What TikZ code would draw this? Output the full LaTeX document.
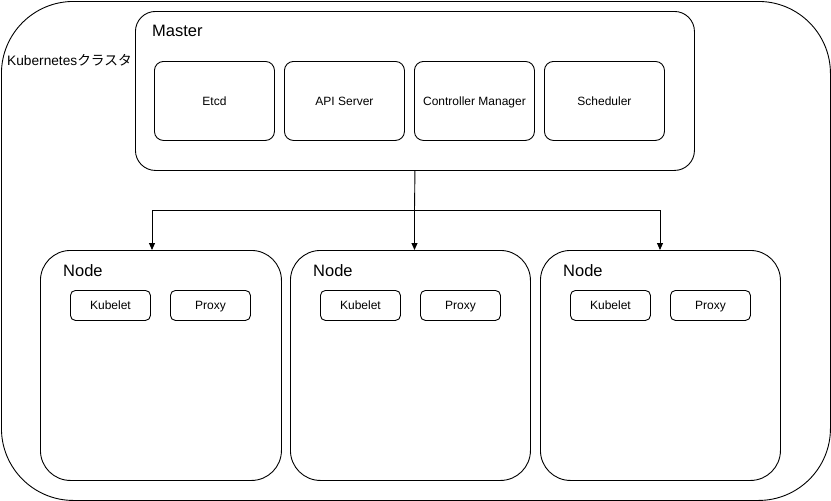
\documentclass[tikz,border=0pt]{standalone}
\usepackage{fontspec}
\setmainfont{Liberation Sans}
\newfontfamily\jp{Noto Sans CJK JP}
\usetikzlibrary{arrows.meta}
\tikzset{
  box/.style={draw, line width=0.9pt, inner sep=0pt, anchor=north west},
  cluster/.style={box, rounded corners=72pt},
  group/.style={box, rounded corners=20pt},
  nodebox/.style={box, rounded corners=30pt},
  comp/.style={box, rounded corners=9pt, font=\fontsize{12}{14}\selectfont, text height=11pt, text depth=2pt},
  small/.style={box, rounded corners=5pt, font=\fontsize{12}{14}\selectfont, text height=11pt, text depth=2pt},
  title/.style={anchor=west, inner sep=0pt, font=\fontsize{16.5}{19}\selectfont},
  lbl/.style={anchor=west, inner sep=0pt, font=\fontsize{13.7}{16}\selectfont},
  arr/.style={line width=0.9pt, -{Triangle[length=7pt,width=6pt]}},
  ln/.style={line width=0.9pt}
}
\begin{document}
\begin{tikzpicture}[x=1pt,y=-1pt]
\useasboundingbox (0,0) rectangle (831,501);
\node[cluster, minimum width=829pt, minimum height=499pt] (cl) at (1,1) {};
\node[lbl] (cllbl) at (7,60) {Kubernetes{\jp クラスタ}};
% Master
\node[group, minimum width=559pt, minimum height=159pt] (master) at (135,11) {};
\node[title] (mt) at (152,31) {Master};
\node[comp, minimum width=120pt, minimum height=79pt] (etcd) at (154,61) {Etcd};
\node[comp, minimum width=120pt, minimum height=79pt] (api) at (284,61) {API Server};
\node[comp, minimum width=120pt, minimum height=79pt] (cm) at (414,61) {Controller Manager};
\node[comp, minimum width=120pt, minimum height=79pt] (sch) at (544,61) {Scheduler};
% Nodes
\node[nodebox, minimum width=241pt, minimum height=230pt] (n1) at (40,250) {};
\node[nodebox, minimum width=240pt, minimum height=230pt] (n2) at (290,250) {};
\node[nodebox, minimum width=240pt, minimum height=230pt] (n3) at (540,250) {};
\node[title] (n1t) at (63,271) {Node};
\node[title] (n2t) at (313,271) {Node};
\node[title] (n3t) at (563,271) {Node};
\node[small, minimum width=80pt, minimum height=30pt] (k1) at (70,290) {Kubelet};
\node[small, minimum width=80pt, minimum height=30pt] (p1) at (170,290) {Proxy};
\node[small, minimum width=80pt, minimum height=30pt] (k2) at (320,290) {Kubelet};
\node[small, minimum width=80pt, minimum height=30pt] (p2) at (420,290) {Proxy};
\node[small, minimum width=80pt, minimum height=30pt] (k3) at (570,290) {Kubelet};
\node[small, minimum width=80pt, minimum height=30pt] (p3) at (670,290) {Proxy};
% connectors
\coordinate (split) at (414.5,210);
\coordinate (lft) at (152,210);
\coordinate (rgt) at (660,210);
\draw[ln] (master.south) -- (split);
\draw[ln] (lft) -- (rgt);
\draw[arr] (split) -- (split |- n2.north);
\draw[arr] (lft) -- (lft |- n1.north);
\draw[arr] (rgt) -- (rgt |- n3.north);
\end{tikzpicture}
\end{document}
